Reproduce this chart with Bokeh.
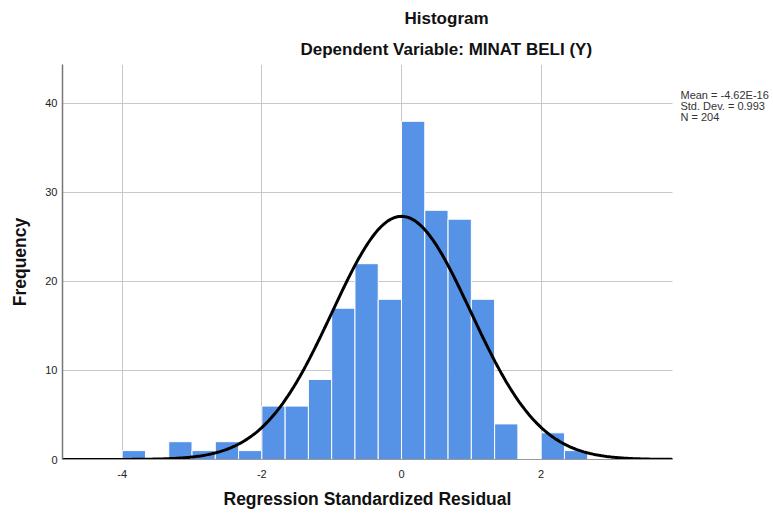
import numpy as np
from bokeh.plotting import figure
from bokeh.models import Range1d, FixedTicker, ColumnDataSource, Title
from bokeh.core.properties import value
from bokeh.embed import file_html
from bokeh.resources import INLINE

# ---- data ----
counts = [1, 0, 2, 1, 2, 1, 6, 6, 9, 17, 22, 18, 38, 28, 27, 18, 4, 0, 3, 1]
bin_start = -4.0
bin_width = 1.0 / 3.0
x_ticks = [-4, -2, 0, 2]
x_tick_labels = ["-4", "-2", "0", "2"]
y_ticks = [0, 10, 20, 30, 40]
y_tick_labels = ["0", "10", "20", "30", "40"]
mean = -4.62e-16
std = 0.993
n_obs = 204
stats_lines = ["Mean = -4.62E-16", "Std. Dev. = 0.993", "N = 204"]
title_text = "Histogram"
subtitle_text = "Dependent Variable: MINAT BELI (Y)"
x_label = "Regression Standardized Residual"
y_label = "Frequency"

FONT = "Liberation Sans"

# plotting area (data units)
x_lo, x_axis_end, x_hi = -4.855, 3.881, 5.313
y_lo, y_hi = 0, 44.38

p = figure(
    output_backend="svg", toolbar_location=None, title=None,
    frame_width=710, frame_height=395,
    min_border_left=62, min_border_right=0, min_border_top=64, min_border_bottom=40,
    x_range=Range1d(x_lo, x_hi), y_range=Range1d(y_lo, y_hi),
    background_fill_color="white", border_fill_color="white",
)
p.outline_line_color = None

# bars
lefts, rights, tops = [], [], []
for i, c in enumerate(counts):
    if c > 0:
        lefts.append(bin_start + i * bin_width)
        rights.append(bin_start + (i + 1) * bin_width)
        tops.append(c)
src = ColumnDataSource(dict(left=lefts, right=rights, top=tops, bottom=[0] * len(tops)))
p.quad(left="left", right="right", top="top", bottom="bottom", source=src,
       fill_color="#5692E6", line_color="white", line_width=1)

# normal curve from the shown statistics
xs = np.linspace(x_lo, x_axis_end, 400)
ys = n_obs * bin_width * np.exp(-0.5 * ((xs - mean) / std) ** 2) / (std * np.sqrt(2 * np.pi))
p.line(xs, ys, line_color="black", line_width=3)

# axes
p.xaxis.ticker = FixedTicker(ticks=x_ticks)
p.yaxis.ticker = FixedTicker(ticks=y_ticks)
p.xaxis.major_label_overrides = dict(zip(x_ticks, x_tick_labels))
p.yaxis.major_label_overrides = dict(zip(y_ticks, y_tick_labels))
p.xaxis.bounds = (x_lo, x_axis_end)
for ax in (p.xaxis[0], p.yaxis[0]):
    ax.major_tick_line_color = None
    ax.minor_tick_line_color = None
    ax.major_tick_out = 0
    ax.major_tick_in = 0
    ax.minor_tick_out = 0
    ax.major_label_text_font = FONT
    ax.major_label_text_font_size = "11px"
    ax.major_label_text_color = "#222222"
    ax.axis_label_text_font = FONT
    ax.axis_label_text_font_size = "17.5px"
    ax.axis_label_text_font_style = "bold"
    ax.axis_label_text_color = "#111111"
p.yaxis.axis_label = y_label
p.xaxis.axis_line_color = "#999999"
p.yaxis.axis_line_color = "#777777"
p.yaxis.axis_line_width = 1.5
p.xaxis.major_label_standoff = 10
p.yaxis.major_label_standoff = 5
p.yaxis.axis_label_standoff = 12

p.xgrid.grid_line_color = "#c8c8c8"
p.ygrid.grid_line_color = "#c8c8c8"
p.xgrid.ticker = FixedTicker(ticks=x_ticks)
p.ygrid.ticker = FixedTicker(ticks=y_ticks)
p.ygrid.cross_bounds = (x_lo, x_axis_end)

# x axis title as a "below" title so it is centred on the axis, not the frame
p.add_layout(Title(text=x_label, align="left", offset=161, standoff=12,
                   text_font=FONT, text_font_size="17.5px", text_font_style="bold",
                   text_color="#111111"), "below")

# headings
p.add_layout(Title(text=subtitle_text, align="left", offset=238, standoff=11,
                   text_font=FONT, text_font_size="17px", text_font_style="bold",
                   text_color="#111111"), "above")
p.add_layout(Title(text=title_text, align="left", offset=342, standoff=10,
                   text_font=FONT, text_font_size="17px", text_font_style="bold",
                   text_color="#111111"), "above")

# statistics box (inside the extended frame, right of the axis end)
stats_y = [40.95, 39.70, 38.45]
p.text(x=[3.995] * 3, y=stats_y, text=stats_lines,
       text_font=value(FONT), text_font_size="11px", text_color="#333333",
       text_align="left", text_baseline="alphabetic")

open("out.html", "w").write(file_html(p, INLINE))
